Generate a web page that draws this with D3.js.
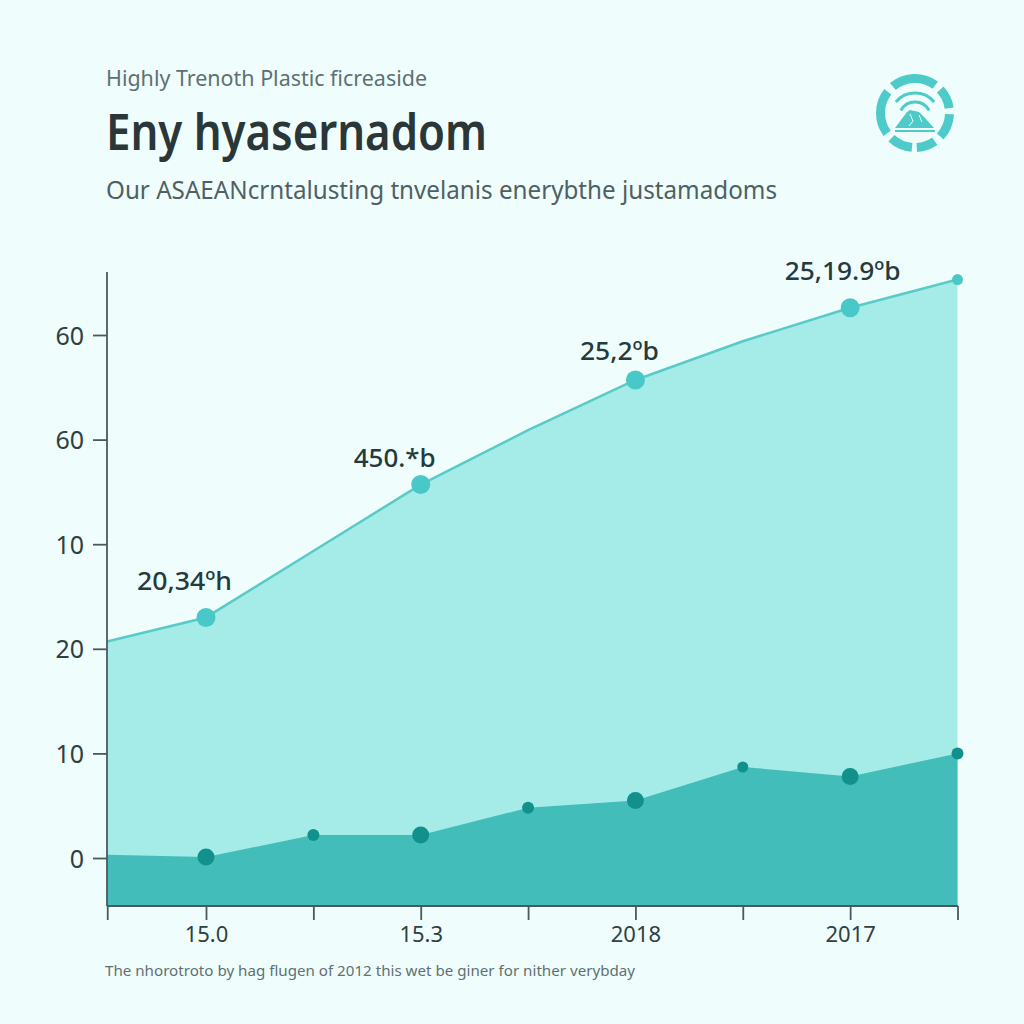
<!DOCTYPE html>
<html><head><meta charset="utf-8">
<script src="https://cdn.jsdelivr.net/npm/d3@7"></script>
<style>html,body{margin:0;padding:0;background:#effefd}svg{display:block}text{font-family:"Noto Sans",sans-serif}</style>
</head><body><svg id="c" width="1024" height="1024"></svg>
<script>
const xPositions=[-0.92,0,1,2,3,4,5,6,7];
const xTickLabels=["","15.0","","15.3","","2018","","2017",""];
const upperValues=[20.7,23,29.35,35.7,40.9,45.7,49.4,52.6,55.3];
const lowerValues=[0.3,0.1,2.2,2.2,4.8,5.5,8.7,7.8,10];
const yTicks=[0,10,20,30,40,50];
const yTickLabels=["0","10","20","10","60","60"];
const upperMarkers=[0,2,4,6,7];
const upperMarkerRadii=[9.5,9.5,9.5,9.5,5.5];
const lowerMarkerRadii=[8.5,6,8.5,6,8.5,5.5,8.5,6];
const pointLabels=["20,34ºh","450.*b","25,2ºb","25,19.9ºb"];
const svg=d3.select("#c");
const x=d3.scaleLinear().domain([0,7]).range([206,957.5]);
const y=d3.scaleLinear().domain([0,50]).range([858,335]);
const base=906;
const pts=v=>xPositions.map((p,i)=>[p,v[i]]);
const area=d3.area().x(d=>x(d[0])).y0(base).y1(d=>y(d[1]));
const line=d3.line().x(d=>x(d[0])).y(d=>y(d[1]));
svg.append("path").datum(pts(upperValues)).attr("d",area).attr("fill","#a5ece8");
svg.append("path").datum(pts(upperValues)).attr("d",line).attr("fill","none").attr("stroke","#58cbc8").attr("stroke-width",2.5).attr("stroke-linejoin","round");
svg.append("path").datum(pts(lowerValues)).attr("d",area).attr("fill","#43bdba");
upperMarkers.forEach((m,i)=>{
  const idx=xPositions.indexOf(m);
  svg.append("circle").attr("cx",x(m)).attr("cy",y(upperValues[idx])).attr("r",upperMarkerRadii[i]).attr("fill","#48c8c6");
});
xPositions.slice(1).forEach((p,i)=>{
  svg.append("circle").attr("cx",x(p)).attr("cy",y(lowerValues[i+1])).attr("r",lowerMarkerRadii[i]).attr("fill","#11908c");
});
const labelDx=[-69,-67,-55.5,-65.5], labelDy=[-27,-18,-20,-28], labelW=[95,82,79,116];
upperMarkers.slice(0,4).forEach((m,i)=>{
  const idx=xPositions.indexOf(m);
  svg.append("text").attr("x",x(m)+labelDx[i]).attr("y",y(upperValues[idx])+labelDy[i]).attr("textLength",labelW[i]).attr("lengthAdjust","spacingAndGlyphs").attr("font-size",25).attr("font-weight",500).attr("fill","#243a3c").text(pointLabels[i]);
});
const axisColor="#4a5a5c";
const gy=svg.append("g").attr("transform","translate(107,0)").call(d3.axisLeft(y).tickValues(yTicks).tickSize(14).tickFormat((d,i)=>yTickLabels[i]));
gy.select(".domain").remove();
gy.append("line").attr("y1",272).attr("y2",906).attr("stroke",axisColor).attr("stroke-width",1.8);
gy.selectAll(".tick line").attr("stroke",axisColor).attr("stroke-width",1.8);
gy.selectAll(".tick text").attr("x",-23).attr("dy","0.36em").attr("font-size",25).attr("fill","#2f4042").style("font-family","Noto Sans");
const gx=svg.append("g").attr("transform",`translate(0,${base})`).call(d3.axisBottom(x).tickValues(xPositions).tickSize(14).tickPadding(6).tickFormat((d,i)=>xTickLabels[i]));
gx.select(".domain").remove();
gx.append("line").attr("x1",x(-0.92)).attr("x2",958).attr("stroke",axisColor).attr("stroke-width",1.8);
gx.selectAll(".tick line").attr("stroke",axisColor).attr("stroke-width",1.8);
gx.selectAll(".tick text").attr("font-size",22).attr("fill","#2f4042").style("font-family","Noto Sans");
const T=(t,px,py,s,w,c,len)=>svg.append("text").attr("x",px).attr("y",py).attr("font-size",s).attr("font-weight",w).attr("fill",c).attr("textLength",len).attr("lengthAdjust","spacingAndGlyphs").text(t);
T("Highly Trenoth Plastic ficreaside",106,86,21,400,"#5f7072",321);
T("Eny hyasernadom",106,150,50,600,"#2a3638",381);
T("Our ASAEANcrntalusting tnvelanis enerybthe justamadoms",106,199,25,400,"#4f6062",671);
T("The nhorotroto by hag flugen of 2012 this wet be giner for nither verybday",105,976,15,400,"#5f7072",530);
const logo=svg.append("g").attr("transform","translate(915,113)");
const ringAngles=[[-40,36],[47,82],[92,133],[145,177],[185,223],[234,308]];
const arc=d3.arc();
ringAngles.forEach(a=>logo.append("path").attr("fill","#4ecbc8").attr("d",arc({innerRadius:30,outerRadius:39,startAngle:a[0]*Math.PI/180,endAngle:a[1]*Math.PI/180})));
[[16,-62,62],[25,-50,50]].forEach(a=>logo.append("path").attr("fill","none").attr("stroke","#4ecbc8").attr("stroke-width",3).attr("transform","translate(0,5)").attr("d",d3.arc()({innerRadius:a[0],outerRadius:a[0],startAngle:a[1]*Math.PI/180,endAngle:a[2]*Math.PI/180})));
logo.append("path").attr("fill","#4ecbc8").attr("d","M-20,15 L-14,7 L-8,-1 L-5,-3 L0,-2 L4,-1 L10,5 L19,15 Z");
logo.append("path").attr("fill","none").attr("stroke","#effefd").attr("stroke-width",1).attr("d","M-5,1 L-2,8 L-6,13 M4,2 L7,9");
logo.append("path").attr("stroke","#4ecbc8").attr("stroke-width",2).attr("d","M-20,18 L20,18");
</script></body></html>
